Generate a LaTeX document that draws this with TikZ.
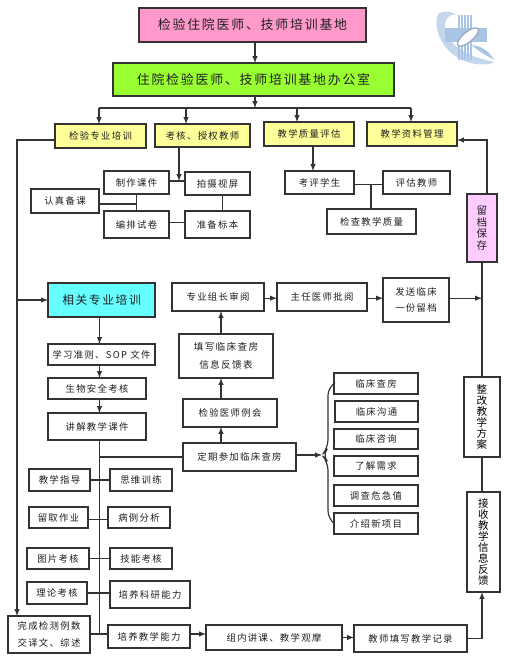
\documentclass[tikz,border=0pt]{standalone}
\usepackage{fontspec}
\usepackage{xcolor}
\setmainfont{Noto Sans CJK SC}
\newfontfamily\cjkwide[LetterSpace=14]{Noto Sans CJK SC}
\setlength{\lineskiplimit}{-20pt}
\definecolor{titlepink}{HTML}{FF99CC}
\definecolor{officegreen}{HTML}{99FF33}
\definecolor{stepyellow}{HTML}{FFFF99}
\definecolor{relatedcyan}{HTML}{66FFFF}
\definecolor{archivepink}{HTML}{FFCCFF}
\definecolor{logoblue}{HTML}{A9C4E4}
\definecolor{inkgray}{HTML}{333333}

\tikzset{
  boxsize/.style 2 args={minimum width=#1*0.03cm,minimum height=#2*0.03cm},
  plainbox/.style={draw=inkgray,line width=1pt,fill=white,inner sep=0pt,outer sep=0pt,
    align=center,text=black!88,font=\cjkwide\fontsize{8}{12}\selectfont},
  largebox/.style={plainbox,font=\cjkwide\fontsize{11}{14}\selectfont},
  upright/.style={plainbox,font=\fontsize{9}{9.4}\selectfont,text=black},
  conn/.style={draw=inkgray,line width=1pt},
  arr/.style={conn,-latex}
}

\begin{document}
\begin{tikzpicture}[x=0.03cm,y=-0.03cm]
  \useasboundingbox (0,0) rectangle (507,666);
  % top of the chart
  \node[largebox,fill=titlepink,boxsize={227}{34}] (base) at (252.5,25) {检验住院医师、技师培训基地};
  \node[largebox,fill=officegreen,boxsize={281}{33}] (office) at (253.5,79.5) {住院检验医师、技师培训基地办公室};
  \node[plainbox,fill=stepyellow,boxsize={91}{24}] (train) at (100.5,136) {检验专业培训};
  \node[plainbox,fill=stepyellow,boxsize={95}{23}] (assess) at (202.5,135.5) {考核、授权教师};
  \node[plainbox,fill=stepyellow,boxsize={90}{24}] (quality) at (309,134) {教学质量评估};
  \node[plainbox,fill=stepyellow,boxsize={90}{24}] (archive) at (412,134) {教学资料管理};
  \coordinate (busmid) at (255,108);
  \coordinate (busa) at (99,108);
  \coordinate (busb) at (186,108);
  \coordinate (busc) at (297,108);
  \coordinate (busd) at (411,108);
  \draw[arr] (base.south -| busmid) -- (office.north -| busmid);
  \draw[arr] (office.south -| busmid) -- (busmid);
  \draw[conn] (busa) -- (busd);
  \foreach \busname/\boxname in {busa/train,busb/assess,busc/quality,busd/archive}
    \draw[arr] (\busname) -- (\busname |- \boxname.north);

  % teacher preparation
  \node[plainbox,boxsize={65}{23}] (slides) at (136.5,182.5) {制作课件};
  \node[plainbox,boxsize={65}{23}] (filming) at (217.5,183.5) {拍摄视屏};
  \node[plainbox,boxsize={68}{24}] (prepare) at (65,201) {认真备课};
  \node[plainbox,boxsize={65}{27}] (papers) at (136.5,224.5) {编排试卷};
  \node[plainbox,boxsize={65}{27}] (samples) at (217.5,224.5) {准备标本};
  \coordinate (assessdrop) at (179,181);
  \draw[arr] (assessdrop |- assess.south) -- (assessdrop);
  \draw[conn] (assessdrop -| slides.east) -- (assessdrop -| filming.west);
  \draw[conn] (slides.south) -- (papers.north);
  \draw[conn] (prepare.east |- 0,204) -- (slides.south |- 0,204);
  \draw[conn] ([yshift=2pt]papers.east) -- ([yshift=2pt]samples.west);
  \draw[conn] ([xshift=4pt]filming.south) -- ([xshift=4pt]samples.north);

  % quality branch
  \node[plainbox,boxsize={69}{23}] (students) at (319.5,182.5) {考评学生};
  \node[plainbox,boxsize={67}{23}] (teachers) at (416.5,182.5) {评估教师};
  \node[plainbox,boxsize={89}{25}] (checking) at (371.5,221.5) {检查教学质量};
  \coordinate (qualitydrop) at (313,171);
  \draw[arr] (qualitydrop |- quality.south) -- (qualitydrop);
  \draw[conn] ([yshift=-2pt]students.east) -- ([yshift=-2pt]teachers.west);
  \coordinate (checkjoin) at (371,185);
  \draw[conn] (checkjoin) -- (checkjoin |- checking.north);

  % right column
  \node[plainbox,fill=archivepink,boxsize={30}{68},font=\fontsize{9}{10.2}\selectfont] (keep) at (482,228) {留\\档\\保\\存};
  \node[upright,boxsize={36}{80}] (revise) at (482,417) {整\\改\\教\\学\\方\\案};
  \node[upright,boxsize={33}{100}] (receive) at (483.5,542) {接\\收\\教\\学\\信\\息\\反\\馈};
  \coordinate (keepcorner) at (487,140);
  \draw[arr] (keepcorner |- keep.north) -- (keepcorner) -- (keepcorner -| archive.east);
  \draw[conn] (keep.south) -- (revise.north);
  \draw[conn] (revise.south) -- (revise.south |- receive.north);

  % review chain
  \node[plainbox,boxsize={92}{28}] (review) at (218,297) {专业组长审阅};
  \node[plainbox,boxsize={90}{28}] (approve) at (322,297) {主任医师批阅};
  \node[plainbox,boxsize={66}{44},font=\cjkwide\fontsize{8}{14}\selectfont] (send) at (416,300) {发送临床\\一份留档};
  \node[plainbox,boxsize={94}{44},font=\cjkwide\fontsize{8.2}{15}\selectfont] (form) at (226,356) {填写临床查房\\信息反馈表};
  \node[plainbox,boxsize={94}{28}] (meeting) at (230,413) {检验医师例会};
  \node[plainbox,boxsize={113}{28}] (rounds) at (239.5,457) {定期参加临床查房};
  \coordinate (chainx) at (221,0);
  \draw[arr] (chainx |- rounds.north) -- (chainx |- meeting.south);
  \draw[arr] (chainx |- meeting.north) -- (chainx |- form.south);
  \draw[arr] (chainx |- form.north) -- (chainx |- review.south);
  \draw[arr] ([yshift=-1pt]review.east) -- ([yshift=-1pt]approve.west);
  \draw[arr] ([yshift=-1pt]approve.east) -- ([yshift=-1pt]approve.east -| send.west);
  \draw[arr] ([yshift=-1pt]approve.east -| send.east) -- ([yshift=-1pt]approve.east -| revise.center);

  % clinical topics with the brace
  \node[plainbox,boxsize={84}{21}] (topica) at (376,383.5) {临床查房};
  \node[plainbox,boxsize={83}{21}] (topicb) at (376.5,411.5) {临床沟通};
  \node[plainbox,boxsize={84}{20}] (topicc) at (376,439) {临床咨询};
  \node[plainbox,boxsize={84}{20}] (topicd) at (376,466) {了解需求};
  \node[plainbox,boxsize={84}{21}] (topice) at (376,495.5) {调查危急值};
  \node[plainbox,boxsize={84}{21}] (topicf) at (376,523.5) {介绍新项目};
  \coordinate (bracetip) at (322,455);
  \draw[arr] (rounds.east |- bracetip) -- (bracetip);
  \draw[conn,rounded corners=7pt] (topica.west) -- (328,387) -- (328,448) -- (bracetip) -- (328,462) -- (328,519) -- (topicf.west);

  % left column
  \node[plainbox,fill=relatedcyan,boxsize={107}{34},font=\cjkwide\fontsize{10}{12}\selectfont] (related) at (101.5,300) {相关专业培训};
  \node[plainbox,boxsize={107}{21}] (rules) at (101.5,354.5) {学习准则、SOP 文件};
  \node[plainbox,boxsize={98}{21}] (safety) at (97,388.5) {生物安全考核};
  \node[plainbox,boxsize={98}{27}] (lecture) at (97,426.5) {讲解教学课件};
  \coordinate (sidex) at (17,140);
  \coordinate (spine) at (99.5,634);
  \node[plainbox,boxsize={82}{37},font=\cjkwide\fontsize{8}{14}\selectfont] (finish) at (49,634.5) {完成检测例数\\交译文、综述};
  \draw[arr] (train.west |- sidex) -- (sidex) -- (sidex |- finish.north);
  \draw[arr] (sidex |- related.west) -- (related.west);
  \draw[arr] (spine |- related.south) -- (spine |- rules.north);
  \draw[arr] (spine |- rules.south) -- (spine |- safety.north);
  \draw[arr] (spine |- safety.south) -- (spine |- lecture.north);
  \draw[conn] (spine |- lecture.south) -- (spine);
  \draw[conn] (spine |- rounds.west) -- (rounds.west);

  % paired items on the spine
  \node[plainbox,boxsize={61}{22}] (guide) at (59.5,480) {教学指导};
  \node[plainbox,boxsize={62}{22}] (thinking) at (141,480) {思维训练};
  \node[plainbox,boxsize={59}{21}] (homework) at (58.5,517.5) {留取作业};
  \node[plainbox,boxsize={62}{21}] (cases) at (139,517.5) {病例分析};
  \node[plainbox,boxsize={62}{21}] (images) at (58,558.5) {图片考核};
  \node[plainbox,boxsize={62}{21}] (skills) at (141,558.5) {技能考核};
  \node[plainbox,boxsize={60}{22}] (theory) at (57,593) {理论考核};
  \node[plainbox,boxsize={80}{27}] (research) at (150,594.5) {培养科研能力};
  \node[plainbox,boxsize={82}{23}] (teaching) at (149,636.5) {培养教学能力};
  \node[plainbox,boxsize={136}{25}] (group) at (274,637.5) {组内讲课、教学观摩};
  \node[plainbox,boxsize={113}{27}] (record) at (410.5,638.5) {教师填写教学记录};
  \draw[conn] (guide.east) -- (thinking.west);
  \draw[conn] ([yshift=-2pt]homework.east) -- ([yshift=-2pt]cases.west);
  \draw[conn] (images.east) -- (skills.west);
  \draw[conn] (theory.east) -- (theory.east -| research.west);
  \draw[conn] (finish.east |- spine) -- (teaching.west |- spine);
  \draw[arr] (teaching.east |- spine) -- (group.west |- spine);
  \draw[arr] (group.east) -- (group.east -| record.west);
  \draw[arr] (record.east) -| (revise.south |- receive.south);

  % logo in the corner
  \fill[logoblue!70!white] (438,14) .. controls (442,11) and (450,11) .. (456,14)
    .. controls (447,15) and (443,21) .. (446,32) .. controls (450,46) and (470,58) .. (495,62)
    .. controls (485,67) and (462,65) .. (448,50) .. controls (438,39) and (434,24) .. (438,14) -- cycle;
  \fill[logoblue] (445,28) rectangle (487,42);
  \foreach \stripe in {458,461,464,467,470}
    \fill[logoblue] (\stripe,15) rectangle (\stripe+2,60);
  \fill[white,rotate around={40:(468,37)}] (468,37) ellipse (13 and 5);
  \draw[logoblue!85!black,line width=1pt,rotate around={40:(468,37)}] (468,37) ellipse (13 and 5);
  \fill[logoblue] (472,45) .. controls (482,46) and (490,52) .. (494,60)
    .. controls (486,55) and (479,52) .. (472,45) -- cycle;
\end{tikzpicture}
\end{document}
